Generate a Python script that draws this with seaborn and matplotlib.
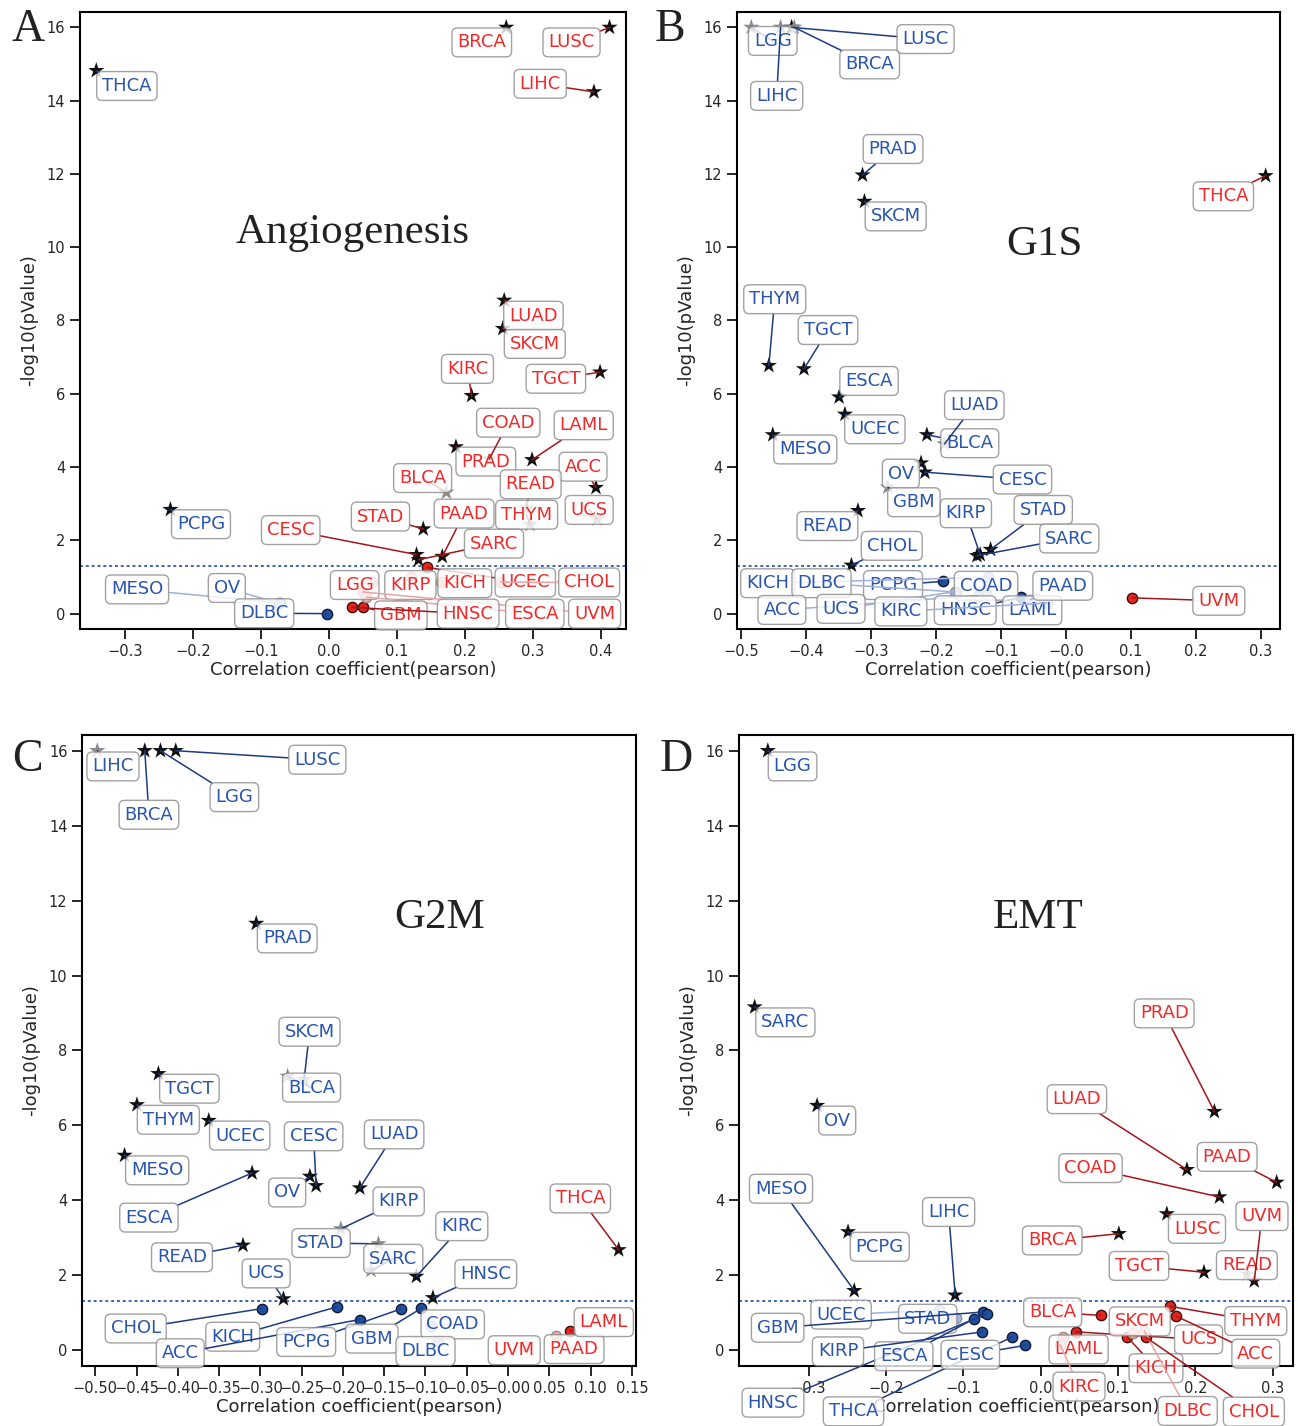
import numpy as np
import pandas as pd
import matplotlib
matplotlib.use("Agg")
import matplotlib.pyplot as plt
import seaborn as sns

# ---------------- data: Pearson r and -log10(p) per TCGA cancer type ----------------
names_A = ['BRCA', 'LUSC', 'THCA', 'LIHC', 'LUAD', 'SKCM', 'TGCT', 'KIRC', 'PRAD', 'COAD', 'LAML',
           'ACC', 'BLCA', 'READ', 'THYM', 'UCS', 'PCPG', 'STAD', 'CESC', 'SARC', 'PAAD', 'UCEC',
           'LGG', 'KIRP', 'KICH', 'CHOL', 'UVM', 'ESCA', 'GBM', 'HNSC', 'MESO', 'OV', 'DLBC']
r_A = [0.261, 0.413, -0.342, 0.390, 0.258, 0.256, 0.399, 0.210, 0.187, 0.236, 0.299,
       0.393, 0.173, 0.291, 0.296, 0.395, -0.233, 0.139, 0.129, 0.132, 0.167, 0.145,
       0.064, 0.121, 0.165, 0.253, 0.050, 0.055, 0.051, 0.034, -0.072, -0.073, -0.003]
logp_A = [16, 16, 14.82, 14.24, 8.55, 7.78, 6.59, 5.95, 4.55, 4.22, 4.20,
          3.44, 3.31, 2.88, 2.43, 2.58, 2.84, 2.31, 1.61, 1.47, 1.56, 1.26,
          0.86, 0.99, 0.86, 0.86, 0.59, 0.45, 0.17, 0.17, 0.29, 0.28, 0.0]

names_B = ['LGG', 'LIHC', 'BRCA', 'LUSC', 'PRAD', 'SKCM', 'THCA', 'THYM', 'TGCT', 'ESCA', 'UCEC',
           'MESO', 'BLCA', 'LUAD', 'OV', 'CESC', 'GBM', 'READ', 'KIRP', 'STAD', 'SARC', 'CHOL',
           'PCPG', 'KICH', 'DLBC', 'COAD', 'ACC', 'UCS', 'HNSC', 'LAML', 'PAAD', 'KIRC', 'UVM']
r_B = [-0.484, -0.439, -0.418, -0.422, -0.313, -0.310, 0.307, -0.457, -0.403, -0.349, -0.340,
       -0.451, -0.214, -0.187, -0.223, -0.217, -0.274, -0.320, -0.132, -0.116, -0.137, -0.330,
       -0.189, -0.120, -0.169, -0.123, -0.136, -0.171, -0.069, -0.046, -0.055, -0.029, 0.102]
logp_B = [16, 16, 16, 16, 11.97, 11.25, 11.95, 6.77, 6.68, 5.91, 5.44,
          4.88, 4.88, 4.63, 4.11, 3.86, 3.45, 2.81, 1.61, 1.75, 1.58, 1.32,
          0.88, 0.99, 0.59, 0.56, 0.49, 0.60, 0.45, 0.40, 0.38, 0.29, 0.43]

names_C = ['LIHC', 'BRCA', 'LGG', 'LUSC', 'PRAD', 'TGCT', 'SKCM', 'BLCA', 'THYM', 'UCEC', 'MESO',
           'ESCA', 'OV', 'CESC', 'LUAD', 'KIRP', 'READ', 'STAD', 'SARC', 'KIRC', 'UCS', 'HNSC',
           'THCA', 'CHOL', 'KICH', 'ACC', 'PCPG', 'GBM', 'COAD', 'DLBC', 'UVM', 'PAAD', 'LAML']
r_C = [-0.4975, -0.440, -0.421, -0.4025, -0.305, -0.4235, -0.247, -0.267, -0.4495, -0.3625, -0.4645,
       -0.310, -0.240, -0.2325, -0.1795, -0.2025, -0.321, -0.157, -0.166, -0.111, -0.272, -0.091,
       0.134, -0.2985, -0.207, -0.1795, -0.130, -0.105, -0.0935, -0.085, 0.020, 0.0575, 0.075]
logp_C = [16, 16, 16, 16, 11.39, 7.38, 7.22, 7.31, 6.55, 6.13, 5.20,
          4.73, 4.64, 4.39, 4.33, 3.24, 2.80, 2.84, 2.13, 1.97, 1.37, 1.40,
          2.68, 1.11, 1.16, 0.82, 1.10, 1.12, 0.64, 0.24, 0.11, 0.37, 0.51]

names_D = ['LGG', 'SARC', 'PRAD', 'OV', 'LUAD', 'PAAD', 'COAD', 'LUSC', 'BRCA', 'PCPG', 'TGCT',
           'READ', 'UVM', 'MESO', 'LIHC', 'UCEC', 'STAD', 'GBM', 'HNSC', 'ESCA', 'KIRP', 'THCA',
           'CESC', 'BLCA', 'LAML', 'KIRC', 'UCS', 'SKCM', 'KICH', 'DLBC', 'CHOL', 'THYM', 'ACC']
r_D = [-0.3527, -0.3697, 0.2245, -0.289, 0.189, 0.305, 0.231, 0.163, 0.101, -0.249, 0.211,
       0.267, 0.276, -0.241, -0.1106, -0.132, -0.1096, -0.0745, -0.070, -0.086, -0.0755, -0.037,
       -0.0197, 0.0777, 0.029, 0.025, 0.045, 0.119, 0.112, 0.134, 0.1356, 0.1676, 0.175]
logp_D = [16, 9.16, 6.37, 6.53, 4.82, 4.48, 4.09, 3.64, 3.11, 3.16, 2.08,
          2.03, 1.85, 1.59, 1.47, 1.07, 0.86, 1.02, 0.97, 0.84, 0.49, 0.35,
          0.13, 0.93, 0.35, 0.15, 0.49, 0.46, 0.35, 0.51, 0.35, 1.17, 0.91]

# points drawn in a lighter shade
faded_A = {'COAD', 'BLCA', 'READ', 'THYM', 'UCS', 'LGG', 'KIRP', 'KICH', 'CHOL', 'UVM', 'ESCA', 'MESO', 'OV'}
faded_B = {'LGG', 'LIHC', 'BRCA', 'LUAD', 'GBM', 'KICH', 'DLBC', 'COAD', 'ACC', 'UCS', 'LAML', 'PAAD', 'KIRC'}
faded_C = {'LIHC', 'SKCM', 'BLCA', 'KIRP', 'STAD', 'SARC', 'COAD', 'DLBC', 'UVM', 'PAAD'}
faded_D = {'READ', 'UCEC', 'STAD', 'LAML', 'KIRC', 'SKCM', 'DLBC'}

# label box centres (data coordinates)
labels_A = {'BRCA': (0.225, 15.59), 'LUSC': (0.357, 15.59), 'THCA': (-0.297, 14.40), 'LIHC': (0.311, 14.46),
            'LUAD': (0.301, 8.13), 'SKCM': (0.303, 7.36), 'KIRC': (0.204, 6.68), 'TGCT': (0.334, 6.41),
            'COAD': (0.264, 5.21), 'LAML': (0.375, 5.14), 'PRAD': (0.231, 4.15), 'ACC': (0.374, 4.01),
            'BLCA': (0.138, 3.70), 'READ': (0.297, 3.53), 'PCPG': (-0.188, 2.44), 'UCS': (0.383, 2.83),
            'PAAD': (0.199, 2.73), 'THYM': (0.291, 2.70), 'STAD': (0.076, 2.65), 'CESC': (-0.056, 2.28),
            'SARC': (0.243, 1.91), 'MESO': (-0.282, 0.66), 'OV': (-0.150, 0.70), 'DLBC': (-0.095, 0.01),
            'LGG': (0.038, 0.78), 'KIRP': (0.120, 0.78), 'KICH': (0.200, 0.83), 'UCEC': (0.289, 0.85),
            'CHOL': (0.383, 0.85), 'GBM': (0.106, -0.05), 'HNSC': (0.205, 0.0), 'ESCA': (0.303, 0.0),
            'UVM': (0.391, 0.0)}
labels_B = {'LGG': (-0.451, 15.63), 'LUSC': (-0.216, 15.68), 'BRCA': (-0.302, 14.99), 'LIHC': (-0.445, 14.13),
            'PRAD': (-0.266, 12.68), 'SKCM': (-0.262, 10.84), 'THCA': (0.242, 11.39), 'THYM': (-0.448, 8.58),
            'TGCT': (-0.366, 7.74), 'ESCA': (-0.303, 6.35), 'UCEC': (-0.294, 5.03), 'MESO': (-0.401, 4.48),
            'LUAD': (-0.141, 5.69), 'BLCA': (-0.148, 4.65), 'OV': (-0.254, 3.82), 'CESC': (-0.067, 3.66),
            'GBM': (-0.234, 3.04), 'READ': (-0.367, 2.39), 'KIRP': (-0.154, 2.74), 'STAD': (-0.035, 2.83),
            'SARC': (0.005, 2.05), 'CHOL': (-0.268, 1.85), 'KICH': (-0.459, 0.83), 'DLBC': (-0.376, 0.83),
            'PCPG': (-0.266, 0.78), 'COAD': (-0.123, 0.76), 'PAAD': (-0.005, 0.76), 'ACC': (-0.437, 0.10),
            'UCS': (-0.346, 0.13), 'KIRC': (-0.254, 0.06), 'HNSC': (-0.155, 0.09), 'LAML': (-0.052, 0.09),
            'UVM': (0.235, 0.35)}
labels_C = {'LIHC': (-0.4785, 15.58), 'BRCA': (-0.435, 14.29), 'LGG': (-0.3315, 14.76), 'LUSC': (-0.231, 15.76),
            'PRAD': (-0.2675, 10.99), 'SKCM': (-0.2405, 8.50), 'BLCA': (-0.238, 7.01), 'TGCT': (-0.386, 6.98),
            'THYM': (-0.4115, 6.15), 'UCEC': (-0.325, 5.73), 'CESC': (-0.2355, 5.71), 'LUAD': (-0.138, 5.76),
            'MESO': (-0.425, 4.80), 'OV': (-0.2675, 4.21), 'ESCA': (-0.435, 3.54), 'KIRP': (-0.1325, 3.97),
            'READ': (-0.395, 2.48), 'STAD': (-0.2265, 2.86), 'SARC': (-0.139, 2.44), 'KIRC': (-0.056, 3.31),
            'THCA': (0.0875, 4.05), 'UCS': (-0.293, 2.05), 'HNSC': (-0.027, 2.03), 'CHOL': (-0.451, 0.58),
            'KICH': (-0.3335, 0.36), 'ACC': (-0.397, -0.08), 'PCPG': (-0.2445, 0.22), 'GBM': (-0.165, 0.31),
            'COAD': (-0.067, 0.69), 'DLBC': (-0.100, -0.02), 'UVM': (0.0075, 0.0), 'PAAD': (0.080, 0.03),
            'LAML': (0.116, 0.75)}
labels_D = {'LGG': (-0.3207, 15.58), 'SARC': (-0.330, 8.75), 'PRAD': (0.1596, 8.99), 'OV': (-0.263, 6.13),
            'LUAD': (0.0468, 6.70), 'PAAD': (0.241, 5.16), 'COAD': (0.0644, 4.86), 'MESO': (-0.3356, 4.31),
            'LIHC': (-0.119, 3.69), 'UVM': (0.286, 3.58), 'LUSC': (0.202, 3.24), 'BRCA': (0.0149, 2.93),
            'PCPG': (-0.208, 2.76), 'TGCT': (0.127, 2.25), 'READ': (0.2665, 2.27), 'UCEC': (-0.258, 0.95),
            'GBM': (-0.340, 0.60), 'STAD': (-0.146, 0.84), 'BLCA': (0.0154, 1.01), 'SKCM': (0.128, 0.77),
            'THYM': (0.278, 0.78), 'UCS': (0.204, 0.29), 'ACC': (0.278, -0.09), 'KIRP': (-0.262, -0.03),
            'ESCA': (-0.177, -0.16), 'CESC': (-0.091, -0.12), 'LAML': (0.049, 0.02), 'KICH': (0.149, -0.48),
            'KIRC': (0.0495, -0.97), 'HNSC': (-0.346, -1.40), 'THCA': (-0.242, -1.63), 'DLBC': (0.190, -1.62),
            'CHOL': (0.2755, -1.64)}

panels = [
    ('A', 'Angiogenesis', names_A, r_A, logp_A, faded_A, labels_A),
    ('B', 'G1S', names_B, r_B, logp_B, faded_B, labels_B),
    ('C', 'G2M', names_C, r_C, logp_C, faded_C, labels_C),
    ('D', 'EMT', names_D, r_D, logp_D, faded_D, labels_D),
]

# ---------------- styling ----------------
sns.set_style("ticks")
plt.rcParams['font.family'] = ['DejaVu Sans']
plt.rcParams['axes.linewidth'] = 1.5

RED_TXT, BLUE_TXT = '#f02a2a', '#2a55ad'
RED_LINE, BLUE_LINE = '#a3161a', '#1e3a82'
RED_LINE_L, BLUE_LINE_L = '#eba3a3', '#9fb0da'
SIG = -np.log10(0.05)

fig = plt.figure(figsize=(12.98, 14.26), dpi=100)
rects = {
    'A': [0.0616, 0.5589, 0.4206, 0.4327],
    'B': [0.5678, 0.5589, 0.4183, 0.4327],
    'C': [0.0632, 0.0421, 0.4268, 0.4425],
    'D': [0.5693, 0.0421, 0.4268, 0.4425],
}
xlims = {'A': (-0.366, 0.437), 'B': (-0.506, 0.329), 'C': (-0.516, 0.155), 'D': (-0.390, 0.326)}
xticks = {'A': np.arange(-0.3, 0.41, 0.1), 'B': np.arange(-0.5, 0.31, 0.1),
          'C': np.arange(-0.50, 0.151, 0.05), 'D': np.arange(-0.3, 0.31, 0.1)}
title_pos = {'A': (0.50, 0.643), 'B': (0.567, 0.622), 'C': (0.646, 0.71), 'D': (0.54, 0.71)}
letter_pos = {'A': (0.022, 0.979), 'B': (0.516, 0.979), 'C': (0.021, 0.467), 'D': (0.521, 0.467)}

for key, title, names, r, logp, faded, lab in panels:
    ax = fig.add_axes(rects[key])
    df = pd.DataFrame({'name': names, 'r': r, 'logp': logp})
    df['sig'] = df['logp'] > SIG
    df['faded'] = df['name'].isin(faded)
    df['pos'] = df['r'] > 0

    ax.axhline(SIG, ls=(0, (1.5, 1.5)), color='#3d64b8', lw=1.4, zorder=1)

    # significant correlations: stars
    for fd, col in [(False, '#101010'), (True, '#8a8a8a')]:
        sub = df[df['sig'] & (df['faded'] == fd)]
        if len(sub):
            sns.scatterplot(data=sub, x='r', y='logp', marker='*', s=150, color=col,
                            edgecolor='none', linewidth=0, ax=ax, zorder=3, legend=False)
    # non-significant: circles coloured by sign
    circ_styles = [
        (True, False, '#e8231c', '#3a1010'), (True, True, '#f4aaa2', '#a08a8a'),
        (False, False, '#1f4fa0', '#101830'), (False, True, '#aab6da', '#8a8f9f'),
    ]
    for ps, fd, fc, ec in circ_styles:
        sub = df[(~df['sig']) & (df['pos'] == ps) & (df['faded'] == fd)]
        if len(sub):
            sns.scatterplot(data=sub, x='r', y='logp', marker='o', s=55, color=fc,
                            edgecolor=ec, linewidth=1.0, ax=ax, zorder=3, legend=False)

    # labels with connectors
    for _, row in df.iterrows():
        tx, ty = lab[row['name']]
        tcol = RED_TXT if row['pos'] else BLUE_TXT
        if row['faded'] and not row['sig']:
            lcol = RED_LINE_L if row['pos'] else BLUE_LINE_L
        else:
            lcol = RED_LINE if row['pos'] else BLUE_LINE
        ax.annotate(row['name'], xy=(row['r'], row['logp']), xytext=(tx, ty),
                    textcoords='data', ha='center', va='center', fontsize=13, color=tcol,
                    bbox=dict(boxstyle='round,pad=0.3', fc='white', ec='#8a8a8a', lw=1.0, alpha=0.8),
                    arrowprops=dict(arrowstyle='-', color=lcol, lw=1.1, shrinkA=0, shrinkB=0),
                    zorder=4, annotation_clip=False)

    ax.set_xlim(*xlims[key])
    ax.set_ylim(-0.42, 16.42)
    ax.set_xticks(xticks[key])
    if key == 'C':
        ax.set_xticklabels([f'{v:.2f}'.replace('-', '\u2212') for v in xticks[key]])
    else:
        ax.set_xticklabels([f'{v:.1f}'.replace('-', '\u2212') for v in xticks[key]])
    ax.set_yticks(np.arange(0, 17, 2))
    ax.tick_params(axis='both', labelsize=10.5, length=7, width=1.4, direction='out')
    for sp in ax.spines.values():
        sp.set_visible(True)
        sp.set_linewidth(1.5)
        sp.set_color('black')
    ax.set_xlabel('Correlation coefficient(pearson)', fontsize=13, labelpad=2)
    ax.set_ylabel('-log10(pValue)', fontsize=13, labelpad=6)

    tx, ty = title_pos[key]
    ax.text(tx, ty, title, transform=ax.transAxes, ha='center', va='center',
            fontsize=31, family='Liberation Serif', color='#222222', zorder=2)
    lx, ly = letter_pos[key]
    fig.text(lx, ly, key, ha='center', va='center', fontsize=33,
             family='Liberation Serif', color='#222222')

fig.savefig('out.png', dpi=100)
